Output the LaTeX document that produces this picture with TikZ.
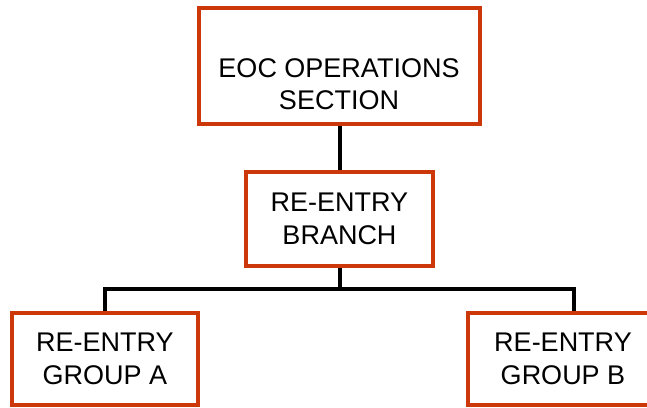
\documentclass[tikz,border=0pt]{standalone}
\usepackage{fontspec}
\setmainfont{Liberation Sans}
\definecolor{boxred}{RGB}{204,56,10}
\begin{document}
\begin{tikzpicture}[x=1pt,y=-1pt,
  box/.style={draw=boxred,line width=4pt,fill=white,rectangle,inner sep=0pt},
  lbl/.style={font=\fontsize{27}{32.5}\selectfont,align=center,inner sep=0pt,text=black},
  link/.style={draw=black,line width=4pt}]
\useasboundingbox (0,0) rectangle (647,407);
% boxes
\node[box,minimum width=281pt,minimum height=116pt] (top) at (339.5,66) {};
\node[lbl] (toptext) at (339,84) {EOC OPERATIONS\\SECTION};
\node[box,lbl,minimum width=187pt,minimum height=94pt] (mid) at (339.5,219) {RE-ENTRY\\BRANCH};
\node[box,lbl,minimum width=186pt,minimum height=92pt] (ga) at (105,359) {RE-ENTRY\\GROUP A};
\node[box,lbl,minimum width=190pt,minimum height=92pt] (gb) at (563,359) {RE-ENTRY\\GROUP B};
% connectors
\coordinate (bar) at (339.5,289);
\coordinate (gbtop) at ([xshift=11pt]gb.north);
\draw[link] (top.south) -- (mid.north);
\draw[link] (mid.south) -- (bar);
\draw[link] (ga.north) -- (ga.north |- bar) -- (gbtop |- bar) -- (gbtop);
\end{tikzpicture}
\end{document}
